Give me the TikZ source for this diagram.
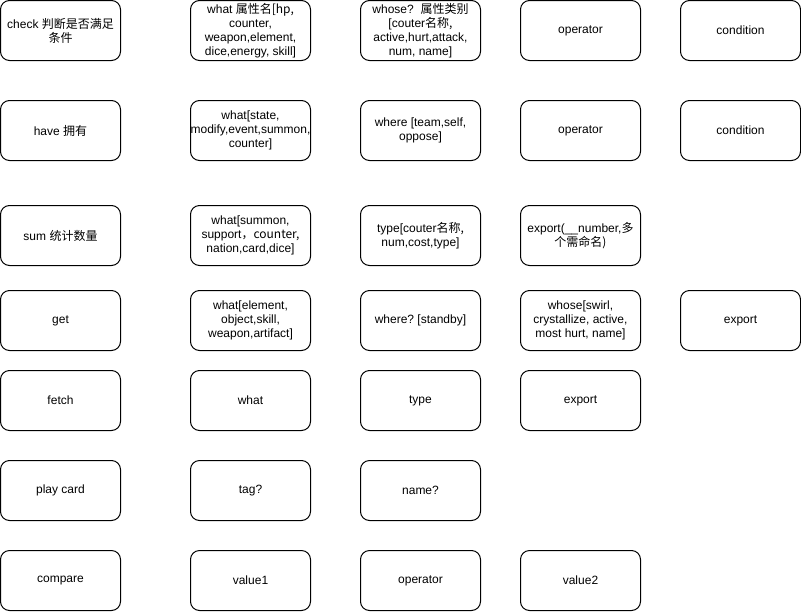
\documentclass[tikz,border=0pt]{standalone}
\usepackage{fontspec}
\setmainfont{Liberation Sans}
\newfontfamily\cjk{Noto Sans CJK SC}
\frenchspacing
\begin{document}
\begin{tikzpicture}[x=1pt,y=-1pt,
  box/.style={draw=black,line width=1pt,rounded corners=9pt,minimum width=120pt,minimum height=60pt,
    inner sep=0pt,align=center,font=\fontsize{12}{14}\selectfont\frenchspacing,text=black}]
\useasboundingbox (0,0) rectangle (801,611);
% row 1
\node[box] (check) at (60.5,30.5) {check \cjk{判断是否满足}\\\cjk{条件}};
\node[box] (what1) at (250.5,30.5) {what \cjk{属性名}[hp,\\counter,\\weapon,element,\\dice,energy, skill]};
\node[box] (whose1) at (420.5,30.5) {whose?\ \ \cjk{属性类别}\\{}[couter\cjk{名称},\\active,hurt,attack,\\num, name]};
\node[box] (op1) at (580.5,30.5) {operator};
\node[box] (cond1) at (740.5,30.5) {condition};
% row 2
\node[box] (have) at (60.5,130.5) {have \cjk{拥有}};
\node[box] (what2) at (250.5,130.5) {what[state,\\modify,event,summon,\\counter]};
\node[box] (where2) at (420.5,130.5) {where [team,self,\\oppose]};
\node[box] (op2) at (580.5,130.5) {operator};
\node[box] (cond2) at (740.5,130.5) {condition};
% row 3
\node[box] (sum) at (60.5,235.5) {sum \cjk{统计数量}};
\node[box] (what3) at (250.5,235.5) {what[summon,\\support\cjk{，}counter,\\nation,card,dice]};
\node[box] (type3) at (420.5,235.5) {type[couter\cjk{名称},\\num,cost,type]};
\node[box] (export3) at (580.5,235.5) {export(\_\_number,\cjk{多}\\\cjk{个需命名})};
% row 4
\node[box] (get) at (60.5,320.5) {get};
\node[box] (what4) at (250.5,320.5) {what[element,\\object,skill,\\weapon,artifact]};
\node[box] (where4) at (420.5,320.5) {where? [standby]};
\node[box] (whose4) at (580.5,320.5) {whose[swirl,\\crystallize, active,\\most hurt, name]};
\node[box] (export4) at (740.5,320.5) {export};
% row 5
\node[box] (fetch) at (60.5,400.5) {fetch};
\node[box] (what5) at (250.5,400.5) {what};
\node[box] (type5) at (420.5,400.5) {type};
\node[box] (export5) at (580.5,400.5) {export};
% row 6
\node[box] (play) at (60.5,490.5) {play card};
\node[box] (tag) at (250.5,490.5) {tag?};
\node[box] (name) at (420.5,490.5) {name?};
% row 7
\node[box] (compare) at (60.5,580.5) {compare};
\node[box] (value1) at (250.5,580.5) {value1};
\node[box] (op7) at (420.5,580.5) {operator};
\node[box] (value2) at (580.5,580.5) {value2};
\end{tikzpicture}
\end{document}
